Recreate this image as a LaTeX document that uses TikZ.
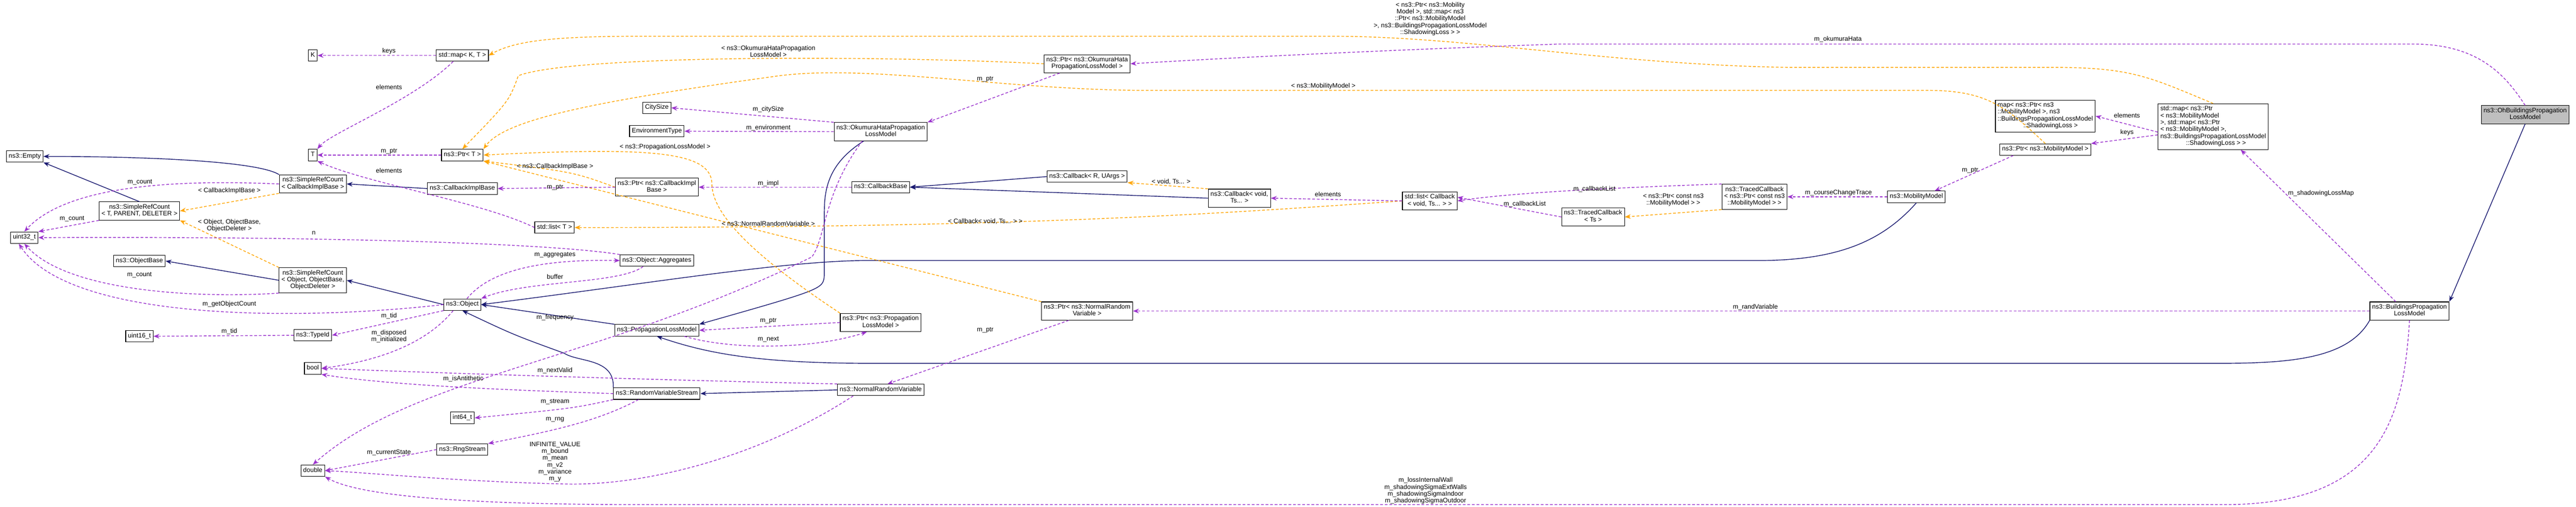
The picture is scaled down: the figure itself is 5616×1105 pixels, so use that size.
\documentclass[tikz,border=0pt]{standalone}
\usepackage{fontspec}
\setmainfont{Liberation Sans}
\usetikzlibrary{arrows.meta}
\definecolor{usecol}{RGB}{154,50,205}
\definecolor{tplcol}{RGB}{255,165,0}
\definecolor{inhcol}{RGB}{25,25,112}
\newcommand{\fs}{\fontsize{14}{15}\selectfont}
\tikzset{
  cls/.style={draw, fill=white, line width=1.2pt, font=\fs, align=center, inner xsep=5pt, inner ysep=5pt, execute at begin node=\strut},
  lbl/.style={font=\fs, align=center, inner sep=1pt},
  tip/.style={-{Stealth[length=13pt,width=10pt]}},
  use/.style={tip, draw=usecol, line width=1.6pt, dash pattern=on 6pt off 4pt},
  tmpl/.style={tip, draw=tplcol, line width=1.6pt, dash pattern=on 6pt off 4pt},
  inh/.style={tip, draw=inhcol, line width=1.6pt}
}
\begin{document}
\begin{tikzpicture}[x=1pt,y=-1pt]
	\useasboundingbox (0,0) rectangle (5616,1105);
	% classes
	\node[cls] (K) at (682,121) {K};
	\node[cls] (mapKT) at (1008,121) {std::map< K, T >};
	\node[cls] (T) at (682,338) {T};
	\node[cls] (ptrT) at (1008,338) {ns3::Ptr< T >};
	\node[cls] (empty) at (54,341) {ns3::Empty};
	\node[cls] (srcCB) at (682,401) {ns3::SimpleRefCount\\< CallbackImplBase >};
	\node[cls] (cbImplBase) at (1008,411) {ns3::CallbackImplBase};
	\node[cls] (srcTPD) at (304,460) {ns3::SimpleRefCount\\< T, PARENT, DELETER >};
	\node[cls] (listT) at (1209,496) {std::list< T >};
	\node[cls] (uint32) at (53,518) {uint32\_t};
	\node[cls] (objBase) at (304,569) {ns3::ObjectBase};
	\node[cls] (srcObj) at (682,611) {ns3::SimpleRefCount\\< Object, ObjectBase,\\ObjectDeleter >};
	\node[cls] (object) at (1008,664) {ns3::Object};
	\node[cls] (uint16) at (304,733) {uint16\_t};
	\node[cls] (typeId) at (682,731) {ns3::TypeId};
	\node[cls] (boolT) at (682,803) {bool};
	\node[cls] (int64) at (1008,911) {int64\_t};
	\node[cls] (rngStream) at (1008,980) {ns3::RngStream};
	\node[cls] (doubleT) at (682,1026) {double};
	\node[cls] (aggr) at (1432,568) {ns3::Object::Aggregates};
	\node[cls] (ptrCBImpl) at (1432,408) {ns3::Ptr< ns3::CallbackImpl\\Base >};
	\node[cls] (cbBase) at (1920,408) {ns3::CallbackBase};
	\node[cls] (plm) at (1432,720) {ns3::PropagationLossModel};
	\node[cls] (ptrPLM) at (1920,703) {ns3::Ptr< ns3::Propagation\\LossModel >};
	\node[cls] (citySize) at (1432,235) {CitySize};
	\node[cls] (envType) at (1432,286) {EnvironmentType};
	\node[cls] (okumura) at (1920,287) {ns3::OkumuraHataPropagation\\LossModel};
	\node[cls] (ptrOku) at (2370,139) {ns3::Ptr< ns3::OkumuraHata\\PropagationLossModel >};
	\node[cls] (cbRU) at (2370,385) {ns3::Callback< R, UArgs >};
	\node[cls] (cbVoid) at (2702,432) {ns3::Callback< void,\\Ts... >};
	\node[cls] (ptrNRV) at (2370,678) {ns3::Ptr< ns3::NormalRandom\\Variable >};
	\node[cls] (nrv) at (1920,850) {ns3::NormalRandomVariable};
	\node[cls] (rvs) at (1432,858) {ns3::RandomVariableStream};
	\node[cls] (listCB) at (3117,438) {std::list< Callback\\< void, Ts... > >};
	\node[cls] (tcTs) at (3473,473) {ns3::TracedCallback\\< Ts >};
	\node[cls] (tcMob) at (3825,429) {ns3::TracedCallback\\< ns3::Ptr< const ns3\\::MobilityModel > >};
	\node[cls] (mobility) at (4178,429) {ns3::MobilityModel};
	\node[cls, align=left] (mapShadow) at (4459,253) {map< ns3::Ptr< ns3\\::MobilityModel >, ns3\\::BuildingsPropagationLossModel\\\hspace*{4em}::ShadowingLoss >};
	\node[cls] (ptrMob) at (4459,326) {ns3::Ptr< ns3::MobilityModel >};
	\node[cls, align=left] (stdMapShadow) at (4825,276) {std::map< ns3::Ptr\\< ns3::MobilityModel\\ >, std::map< ns3::Ptr\\< ns3::MobilityModel >,\\ns3::BuildingsPropagationLossModel\\\hspace*{4em}::ShadowingLoss > >};
	\node[cls, fill=black!25] (ohb) at (5505,250) {ns3::OhBuildingsPropagation\\LossModel};
	\node[cls] (bplm) at (5253,678) {ns3::BuildingsPropagation\\LossModel};

	% inheritance
	\draw[inh] (srcCB.north west) .. controls (560,350) and (300,341) .. (empty.east);
	\draw[inh] (srcTPD.north) -- (empty.south east);
	\draw[inh] (cbImplBase.west) -- (srcCB.east);
	\draw[inh] (srcObj.west) -- (objBase.east);
	\draw[inh] (object.west) -- (srcObj.east);
	\draw[inh] (plm.north west) -- (object.east);
	\draw[inh] (rvs.north west) .. controls (1340,780) and (1260,790) .. (1230,770) .. controls (1120,730) .. (object.south);
	\draw[inh] (mobility.south) .. controls (4100,530) and (4000,568) .. (3830,568) -- (1880,568) .. controls (1700,570) and (1400,620) .. (object.east);
	\draw[inh] ([xshift=-37pt]okumura.south) .. controls (1800,360) and (1797,420) .. (1797,470) -- (1797,600) .. controls (1795,630) .. (plm.north east);
	\draw[inh] (bplm.south west) .. controls (5120,780) and (5000,792) .. (4840,792) -- (1900,792) .. controls (1650,792) and (1540,770) .. (plm.south);
	\draw[inh] (ohb.south) -- (bplm.north east);
	\draw[inh] (nrv.west) -- (rvs.east);
	\draw[inh] (cbRU.west) -- (cbBase.east);
	\draw[inh] (cbVoid.west) -- (cbBase.east);

	% templates
	\draw[tmpl] (stdMapShadow.north) .. controls (4690,170) and (4650,147) .. (4480,147) -- (3900,147) .. controls (3500,140) and (3200,79) .. (2900,79) -- (1400,79) .. controls (1200,79) and (1120,90) .. (mapKT.east);
	\draw[tmpl] (ptrOku.west) .. controls (1900,120) and (1250,120) .. (1130,165) .. controls (1110,220) .. (ptrT.north);
	\draw[tmpl] (ptrMob.north) .. controls (4370,230) and (4330,197) .. (4200,197) -- (2500,197) .. controls (2200,197) and (1900,140) .. (1700,165) .. controls (1300,220) and (1100,260) .. (ptrT.north east);
	\draw[tmpl] (ptrPLM.north west) .. controls (1600,530) and (1552,450) .. (1552,400) .. controls (1550,330) and (1420,320) .. (ptrT.east);
	\draw[tmpl] (ptrCBImpl.west) .. controls (1250,375) .. (ptrT.south east);
	\draw[tmpl] (ptrNRV.north west) -- (ptrT.south east);
	\draw[tmpl] (listCB.west) .. controls (2600,470) and (2200,496) .. (listT.east);
	\draw[tmpl] (srcCB.south west) -- (srcTPD.east);
	\draw[tmpl] (srcObj.north west) -- (srcTPD.south east);
	\draw[tmpl] (cbVoid.north west) -- (cbRU.south east);
	\draw[tmpl] (tcMob.south west) -- (tcTs.east);

	% usage
	\draw[use] (mapKT.west) -- (K.east);
	\draw[use] ([xshift=-20pt]mapKT.south) .. controls (900,220) and (720,290) .. (T.north east);
	\draw[use] (ptrT.west) -- (T.east);
	\draw[use] (listT.west) .. controls (1050,440) and (800,400) .. (T.south east);
	\draw[use] (srcCB.west) .. controls (400,392) and (150,400) .. (uint32.north);
	\draw[use] (srcTPD.south west) -- (uint32.north east);
	\draw[use] (srcObj.south west) .. controls (450,650) and (150,640) .. (uint32.south);
	\draw[use] (object.west) .. controls (650,700) and (150,700) .. ([xshift=-12pt]uint32.south);
	\draw[use] (aggr.north west) .. controls (1200,530) and (700,515) .. (uint32.east);
	\draw[use] ([xshift=10pt]object.north) .. controls (1060,600) and (1150,564) .. (aggr.west);
	\draw[use] ([xshift=-30pt]aggr.south) .. controls (1350,620) and (1150,610) .. (object.north east);
	\draw[use] (object.south west) -- (typeId.east);
	\draw[use] (typeId.west) -- (uint16.east);
	\draw[use] ([xshift=-20pt]object.south) .. controls (920,760) and (800,790) .. (boolT.east);
	\draw[use] (nrv.north west) .. controls (1500,830) and (1000,815) .. (boolT.east);
	\draw[use] (rvs.west) .. controls (1100,850) and (850,840) .. (boolT.south east);
	\draw[use] (rvs.south west) .. controls (1250,890) .. (int64.east);
	\draw[use] ([xshift=-40pt]rvs.south) .. controls (1300,920) and (1200,940) .. (rngStream.north east);
	\draw[use] (rngStream.west) -- (doubleT.east);
	\draw[use] ([xshift=-60pt]nrv.south) .. controls (1650,1000) and (1400,1060) .. (1230,1055) .. controls (1000,1050) and (800,1030) .. (doubleT.east);
	\draw[use] ([xshift=-40pt]okumura.south) .. controls (1795,420) and (1800,520) .. (1770,560) .. controls (1300,790) and (900,820) .. (doubleT.north);
	\draw[use] (bplm.south) .. controls (5240,900) and (5200,1100) .. (4850,1100) -- (1400,1100) .. controls (1000,1100) and (780,1080) .. (doubleT.south east);
	\draw[use] (okumura.north west) -- (citySize.east);
	\draw[use] (okumura.west) -- (envType.east);
	\draw[use] ([xshift=-60pt]ptrOku.south) -- (okumura.north east);
	\draw[use] (ohb.north) .. controls (5460,160) and (5400,96) .. (5260,96) -- (3400,96) .. controls (3000,110) and (2700,125) .. (ptrOku.east);
	\draw[use] (ptrCBImpl.west) -- (cbImplBase.east);
	\draw[use] (cbBase.west) -- (ptrCBImpl.east);
	\draw[use] (ptrPLM.west) -- (plm.east);
	\draw[use] ([xshift=60pt]plm.south) .. controls (1600,765) and (1780,760) .. ([xshift=-30pt]ptrPLM.south);
	\draw[use] ([xshift=-40pt]ptrNRV.south) -- ([xshift=15pt]nrv.north);
	\draw[use] (bplm.west) -- (ptrNRV.east);
	\draw[use] (listCB.west) -- (cbVoid.east);
	\draw[use] (tcMob.north west) .. controls (3500,410) and (3300,420) .. (listCB.east);
	\draw[use] (tcTs.west) -- ([yshift=8pt]listCB.east);
	\draw[use] (mobility.west) -- (tcMob.east);
	\draw[use] ([xshift=-70pt]ptrMob.south) -- ([xshift=40pt]mobility.north);
	\draw[use] ([yshift=-12pt]stdMapShadow.west) -- (mapShadow.east);
	\draw[use] ([yshift=-18pt]stdMapShadow.west) -- (ptrMob.north east);
	\draw[use] ([xshift=-30pt]bplm.north) -- ([xshift=60pt]stdMapShadow.south);

	% labels
	\node[lbl] (l-keys) at (848,112) {keys};
	\node[lbl] (l-elemT) at (848,190) {elements};
	\node[lbl] (l-ptrT) at (848,330) {m\_ptr};
	\node[lbl] (l-elemL) at (848,372) {elements};
	\node[lbl] (l-cnt1) at (305,397) {m\_count};
	\node[lbl] (l-cnt2) at (157,477) {m\_count};
	\node[lbl] (l-cnt3) at (304,600) {m\_count};
	\node[lbl] (l-goc) at (500,663) {m\_getObjectCount};
	\node[lbl] (l-n) at (684,508) {n};
	\node[lbl] (l-aggr) at (1210,556) {m\_aggregates};
	\node[lbl] (l-buf) at (1210,603) {buffer};
	\node[lbl] (l-tid1) at (848,689) {m\_tid};
	\node[lbl] (l-tid2) at (500,722) {m\_tid};
	\node[lbl] (l-disp) at (848,733) {m\_disposed\\m\_initialized};
	\node[lbl] (l-nv) at (1210,808) {m\_nextValid};
	\node[lbl] (l-anti) at (1010,826) {m\_isAntithetic};
	\node[lbl] (l-strm) at (1210,876) {m\_stream};
	\node[lbl] (l-rng) at (1210,915) {m\_rng};
	\node[lbl] (l-cur) at (848,987) {m\_currentState};
	\node[lbl] (l-inf) at (1210,1007) {INFINITE\_VALUE\\m\_bound\\m\_mean\\m\_v2\\m\_variance\\m\_y};
	\node[lbl] (l-freq) at (1210,692) {m\_frequency};
	\node[lbl] (l-loss) at (3108,1070) {m\_lossInternalWall\\m\_shadowingSigmaExtWalls\\m\_shadowingSigmaIndoor\\m\_shadowingSigmaOutdoor};
	\node[lbl] (l-city) at (1675,238) {m\_citySize};
	\node[lbl] (l-env) at (1675,279) {m\_environment};
	\node[lbl] (l-ptrO) at (2148,173) {m\_ptr};
	\node[lbl] (l-oku) at (4007,86) {m\_okumuraHata};
	\node[lbl] (l-ptrC) at (1210,409) {m\_ptr};
	\node[lbl] (l-impl) at (1675,400) {m\_impl};
	\node[lbl] (l-ptrP) at (1675,700) {m\_ptr};
	\node[lbl] (l-next) at (1675,740) {m\_next};
	\node[lbl] (l-ptrN) at (2148,720) {m\_ptr};
	\node[lbl] (l-rv) at (3827,670) {m\_randVariable};
	\node[lbl] (l-elemC) at (2895,424) {elements};
	\node[lbl] (l-cbl1) at (3476,412) {m\_callbackList};
	\node[lbl] (l-cbl2) at (3324,445) {m\_callbackList};
	\node[lbl] (l-cct) at (4008,420) {m\_courseChangeTrace};
	\node[lbl] (l-ptrM) at (4295,372) {m\_ptr};
	\node[lbl] (l-elemS) at (4637,252) {elements};
	\node[lbl] (l-keysS) at (4637,289) {keys};
	\node[lbl] (l-slm) at (5060,421) {m\_shadowingLossMap};
	\node[lbl] (t-map) at (3118,41) {< ns3::Ptr< ns3::Mobility\\Model >, std::map< ns3\\::Ptr< ns3::MobilityModel\\>, ns3::BuildingsPropagationLossModel\\::ShadowingLoss > >};
	\node[lbl] (t-oku) at (1675,112) {< ns3::OkumuraHataPropagation\\LossModel >};
	\node[lbl] (t-mob) at (2885,188) {< ns3::MobilityModel >};
	\node[lbl] (t-plm) at (1450,320) {< ns3::PropagationLossModel >};
	\node[lbl] (t-cbi) at (1210,363) {< ns3::CallbackImplBase >};
	\node[lbl] (t-nrv) at (1675,487) {< ns3::NormalRandomVariable >};
	\node[lbl] (t-cbv) at (2148,483) {< Callback< void, Ts... > >};
	\node[lbl] (t-cib) at (500,416) {< CallbackImplBase >};
	\node[lbl] (t-obj) at (500,492) {< Object, ObjectBase,\\ObjectDeleter >};
	\node[lbl] (t-void) at (2553,396) {< void, Ts... >};
	\node[lbl] (t-tc) at (3648,436) {< ns3::Ptr< const ns3\\::MobilityModel > >};
\end{tikzpicture}
\end{document}
